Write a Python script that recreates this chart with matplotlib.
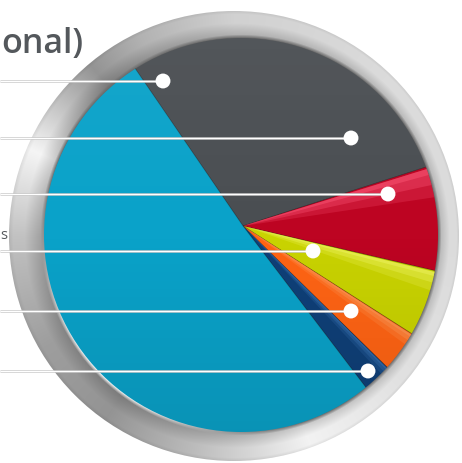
import matplotlib.pyplot as plt
import numpy as np
from matplotlib.patches import Circle, Wedge

W, H = 462, 464

# slice shares (percent), clockwise from the upper-left edge of the dark slice
SHARES = [29.6, 8.6, 5.4, 3.3, 2.3, 50.8]
COLORS = ['#4a4e52', '#bd0422', '#c9d300', '#ff6414', '#0f4078', '#0aa2c9']
GLOSS = [None, '#ff5a7a', '#f4f86a', '#ffa060', '#3f78b8', None]
START_ANGLE = 124.4

TITLE_TAIL = 'onal)'
LABEL_TAIL = 's'

# label rows and where their leader lines stop
ROW_Y = [382, 325, 269, 212, 152, 92]
DOT_X = [163, 351, 388, 313, 351, 368]

APEX = (243, 237)
DISC_C, DISC_R = (241, 228), 197
RING_C, RING_R = (234, 227), 225

# brightness of the brushed metal going round the bezel (degrees, tone)
METAL_ANG = [-180, -150, -125, -100, -70, -40, 0, 45, 90, 115, 130, 157, 180]
METAL_TONE = [0.76, 0.62, 0.58, 0.74, 0.95, 0.88, 0.86, 0.86, 0.82, 0.70, 0.58, 0.96, 0.76]

fig = plt.figure(figsize=(W / 100, H / 100), dpi=100)
ax = fig.add_axes([0, 0, 1, 1])

# --- metal bezel ---
yy, xx = np.mgrid[0:H, 0:W] + 0.5
th = np.degrees(np.arctan2(yy - RING_C[1], xx - RING_C[0]))
r = np.hypot(xx - RING_C[0], yy - RING_C[1])
d_in = np.hypot(xx - DISC_C[0], yy - DISC_C[1]) - DISC_R
u = np.clip(d_in / np.maximum(d_in + RING_R - r, 1), 0, 1)

base = np.interp(th, METAL_ANG, METAL_TONE)
profile = 0.80 + 0.20 * np.clip(u / 0.55, 0, 1) - 0.07 * np.clip((u - 0.88) / 0.12, 0, 1)
tone = base * profile

# bevel seam: dark shadow on top, bright lip lower left
th_d = np.arctan2(yy - DISC_C[1], xx - DISC_C[0])
lip = 0.42 + 0.56 * np.clip(np.cos(th_d - np.radians(-135)), 0, 1) ** 4
seam = np.clip(1 - d_in / 3.5, 0, 1)
tone = tone * (1 - seam) + lip * seam
tone = np.clip(tone, 0, 1)
ring_img = np.dstack([tone, tone, tone])

ring = Circle(RING_C, RING_R, facecolor='none', edgecolor='none')
ax.add_patch(ring)
im = ax.imshow(ring_img, extent=(0, W, 0, H), origin='lower', interpolation='bilinear', zorder=1)
im.set_clip_path(ring)

# --- pie ---
disc = Circle(DISC_C, DISC_R, facecolor='none', edgecolor='none')
ax.add_patch(disc)
wedges, _ = ax.pie(SHARES, colors=COLORS, startangle=START_ANGLE, counterclock=False,
                   center=APEX, radius=215, frame=True,
                   wedgeprops=dict(linewidth=0.6, edgecolor='#00000038'))
for w in wedges:
    w.set_zorder(3)
    w.set_clip_on(True)
    w.set_clip_path(disc)

# lighter bevel along the upper edge of the thin slices
bounds = START_ANGLE - 3.6 * np.concatenate([[0], np.cumsum(SHARES)])
for i, gc in enumerate(GLOSS):
    if gc is None:
        continue
    span = bounds[i] - bounds[i + 1]
    for frac, a in [(0.30, 0.22), (0.18, 0.32), (0.08, 0.42)]:
        g = Wedge(APEX, 215, bounds[i] - span * frac, bounds[i] - span * 0.02,
                  facecolor=gc, edgecolor='none', alpha=a, zorder=3.5)
        ax.add_patch(g)
        g.set_clip_path(disc)

# soft light-to-dark sheen over the disc
g = np.linspace(0, 1, H)[:, None] * np.ones((1, W))
sheen = np.zeros((H, W, 4))
sheen[..., :3] = (g > 0.5)[..., None] * 1.0
sheen[..., 3] = np.where(g > 0.5, (g - 0.5) * 0.12, (0.5 - g) * 0.22)
sh = ax.imshow(sheen, extent=(0, W, 0, H), origin='lower', zorder=4)
sh.set_clip_path(disc)

# --- leader lines and dots ---
ax.hlines(ROW_Y, 0, DOT_X, colors='#c9c9c9', linewidth=1.8, zorder=5)
ax.hlines(ROW_Y, 0, DOT_X, colors='white', linewidth=0.8, zorder=6)
ax.scatter(DOT_X, ROW_Y, s=115, color='white', edgecolors='none', zorder=7)

ax.text(83, H - 53, TITLE_TAIL, ha='right', va='baseline', fontsize=24.5,
        color='#54585c', family='Open Sans', weight='semibold', zorder=8)
ax.text(0, H - 239, LABEL_TAIL, ha='left', va='baseline', fontsize=10.5,
        color='#54585c', family='Open Sans', zorder=8)

ax.set_xlim(0, W)
ax.set_ylim(0, H)
ax.axis('off')

fig.savefig('out.png', dpi=100)
